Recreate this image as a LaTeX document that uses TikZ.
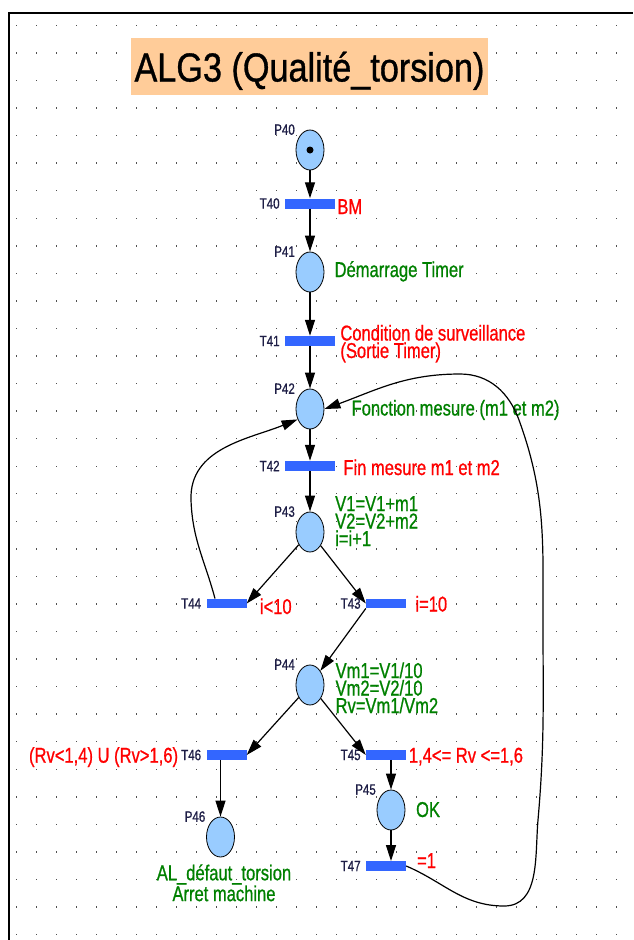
\documentclass[tikz,border=0pt]{standalone}
\usepackage{fontspec}
\usetikzlibrary{arrows.meta,shapes.geometric}
\newfontfamily\lblfont[FakeStretch=0.77, FakeBold=0.8]{Liberation Sans}
\newfontfamily\ttlfont[FakeStretch=0.845, FakeBold=0.8]{Liberation Sans}
\definecolor{placeblue}{RGB}{153,204,255}
\definecolor{barblue}{RGB}{51,102,255}
\definecolor{actgreen}{RGB}{0,128,0}
\definecolor{condred}{RGB}{255,0,0}
\definecolor{namenavy}{RGB}{30,30,70}
\definecolor{titlepeach}{RGB}{255,204,153}
\definecolor{dotgrey}{RGB}{80,80,80}

\begin{document}
\begin{tikzpicture}[x=1pt, y=1pt,
        place/.style={draw, ellipse, fill=placeblue, line width=0.8pt, minimum width=28pt, minimum height=40pt, inner sep=0pt},
        trans/.style={rectangle, fill=barblue, minimum width=50pt, minimum height=10pt, inner sep=0pt},
        shorttrans/.style={trans, minimum width=40pt, minimum height=9.5pt},
        pname/.style={font=\lblfont\fontsize{15}{15}\selectfont, text=namenavy, inner sep=1pt},
        cond/.style={font=\lblfont\fontsize{21.5}{17.5}\selectfont, text=condred, inner sep=1pt, align=left},
        act/.style={cond, text=actgreen},
        flow/.style={line width=1.2pt, -{Triangle[length=16pt, width=10pt]}}]
        \useasboundingbox (0,0) rectangle (633,-940);
        \foreach \i in {0,...,30} {
            \foreach \j in {0,...,33} {
                \fill[dotgrey] (16+20*\i, -24.7-27.55*\j) rectangle ++(1.4,-1.4);
            }
        }
        \draw[line width=2pt] (9,-940) -- (9,-12.5) -- (633,-12.5);

        \node (title) [fill=titlepeach, minimum width=357pt, minimum height=57pt, inner sep=0pt, text height=32pt, text depth=2pt, font=\ttlfont\fontsize{40.5}{40.5}\selectfont] at (309.5,-66.5) {ALG3 (Qualité\_torsion)};

        \node (p40) [place] at (310,-150) {};
        \node (p40_token) [circle, fill=black, inner sep=0pt, minimum size=7pt] at (p40) {};
        \node (t40) [trans, node distance=53.5pt, below of=p40] {};
        \node (p41) [place, node distance=68.5pt, below of=t40] {};
        \node (t41) [trans, node distance=69pt, below of=p41] {};
        \node (p42) [place, node distance=68pt, below of=t41] {};
        \node (t42) [trans, node distance=57pt, below of=p42] {};
        \node (p43) [place, node distance=66pt, below of=t42] {};
        \node (t44) [shorttrans, node distance=71.5pt, below of=p43, xshift=-83.5pt] {};
        \node (t43) [shorttrans, node distance=71.5pt, below of=p43, xshift=76pt] {};
        \node (p44) [place, node distance=153pt, below of=p43] {};
        \node (t46) [shorttrans, node distance=70pt, below of=p44, xshift=-83.5pt] {};
        \node (t45) [shorttrans, node distance=70pt, below of=p44, xshift=76pt] {};
        \node (p45) [place, node distance=55pt, below of=t45, xshift=5pt] {};
        \node (p46) [place, node distance=82pt, below of=t46, xshift=-6pt] {};
        \node (t47) [shorttrans, node distance=56pt, below of=p45, xshift=-5pt] {};

        \node (p40_name) [pname, anchor=east] at ([xshift=-14pt]p40.north) {P40};
        \node (p41_name) [pname, anchor=east] at ([xshift=-14pt]p41.north) {P41};
        \node (p42_name) [pname, anchor=east] at ([xshift=-14pt]p42.north) {P42};
        \node (p43_name) [pname, anchor=east] at ([xshift=-14pt]p43.north) {P43};
        \node (p44_name) [pname, anchor=east] at ([xshift=-14pt]p44.north) {P44};
        \node (p45_name) [pname, anchor=east] at ([xshift=-14pt]p45.north) {P45};
        \node (p46_name) [pname, anchor=east] at ([xshift=-14pt]p46.north) {P46};
        \node (t40_name) [pname, anchor=east] at ([xshift=-4pt]t40.west) {T40};
        \node (t41_name) [pname, anchor=east] at ([xshift=-4pt]t41.west) {T41};
        \node (t42_name) [pname, anchor=east] at ([xshift=-4pt]t42.west) {T42};
        \node (t44_name) [pname, anchor=east] at ([xshift=-4pt]t44.west) {T44};
        \node (t43_name) [pname, anchor=east] at ([xshift=-4pt]t43.west) {T43};
        \node (t46_name) [pname, anchor=east] at ([xshift=-4pt]t46.west) {T46};
        \node (t45_name) [pname, anchor=east] at ([xshift=-4pt]t45.west) {T45};
        \node (t47_name) [pname, anchor=east] at ([xshift=-4pt]t47.west) {T47};

        \node (t40_cond) [cond, anchor=base west] at ([xshift=1pt, yshift=-10.5pt]t40.east) {BM};
        \node (p41_act) [act, anchor=base west] at ([xshift=9pt, yshift=-5pt]p41.east) {Démarrage Timer};
        \node (t41_cond) [cond, anchor=base west] at ([xshift=4pt, yshift=-17pt]t41.east) {Condition de surveillance\\(Sortie Timer)};
        \node (p42_act) [act, anchor=base west] at ([xshift=26pt, yshift=-6.5pt]p42.east) {Fonction mesure (m1 et m2)};
        \node (t42_cond) [cond, anchor=base west] at ([xshift=7pt, yshift=-9pt]t42.east) {Fin mesure m1 et m2};
        \node (p43_act) [act, anchor=base west] at ([xshift=9.6pt, yshift=-14pt]p43.east) {V1=V1+m1\\V2=V2+m2\\i=i+1};
        \node (t44_cond) [cond, anchor=base west] at ([xshift=12pt, yshift=-10.5pt]t44.east) {i<10};
        \node (t43_cond) [cond, anchor=base west] at ([xshift=8pt, yshift=-8pt]t43.east) {i=10};
        \node (p44_act) [act, anchor=base west] at ([xshift=10pt, yshift=-28pt]p44.east) {Vm1=V1/10\\Vm2=V2/10\\Rv=Vm1/Vm2};
        \node (t46_cond) [cond, anchor=base east] at ([xshift=-27pt, yshift=-7.7pt]t46.west) {(Rv<1,4) U (Rv>1,6)};
        \node (t45_cond) [cond, anchor=base west] at ([xshift=1.5pt, yshift=-7.7pt]t45.east) {1,4<= Rv <=1,6};
        \node (p45_act) [act, anchor=base west] at ([xshift=9.5pt, yshift=-7pt]p45.east) {OK};
        \node (t47_cond) [cond, anchor=base west] at ([xshift=9.7pt, yshift=-2pt]t47.east) {=1};
        \node (p46_act) [act, align=center, anchor=base] at ([xshift=3.5pt, yshift=-43.7pt]p46.south) {AL\_défaut\_torsion\\Arret machine};

        \draw[flow] (p40) -- (t40);
        \draw[flow] (t40) -- (p41);
        \draw[flow] (p41) -- (t41);
        \draw[flow] (t41) -- (p42);
        \draw[flow] (p42) -- (t42);
        \draw[flow] (t42) -- (p43);
        \draw[flow] (p43) -- (t44.east);
        \draw[flow] (p43) -- (t43.west);
        \draw[flow] ([xshift=-11.5pt]t44.north) to[out=105, in=-88] (191,-500) to[out=92, in=-158] (p42.220);
        \draw[flow] (t43.south west) -- (p44);
        \draw[flow] (p44) -- (t46.east);
        \draw[flow] (p44) -- (t45.west);
        \draw[flow] (t46.south -| p46) -- (p46);
        \draw[flow] (t45.south -| p45) -- (p45);
        \draw[flow] (p45) -- (p45 |- t47.north);
        \draw[flow] (t47.east) to[out=-23, in=180] (504,-906) to[out=0, in=-95] (538,-820) to[out=85, in=-90] (543,-620) to[out=90, in=-70] (519,-420) to[out=110, in=0] (460,-374) to[out=180, in=20] (p42.east);
\end{tikzpicture}
\end{document}
